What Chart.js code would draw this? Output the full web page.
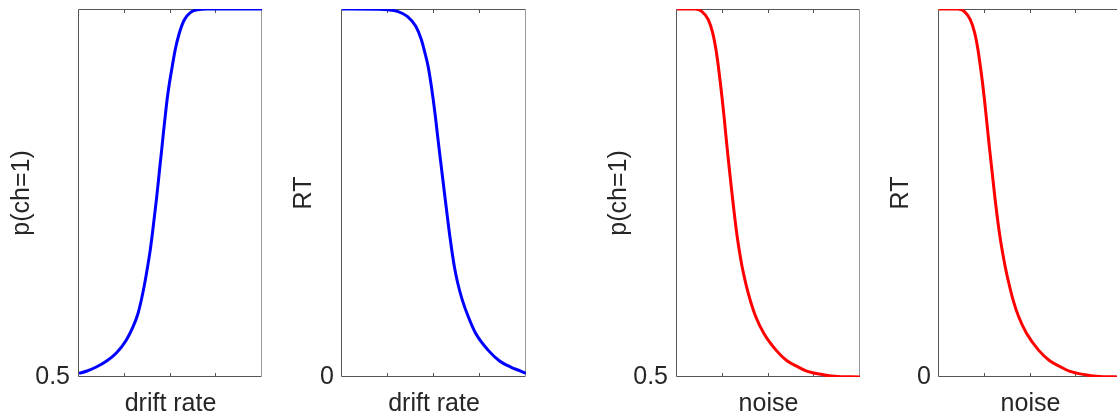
<!DOCTYPE html>
<html><head><meta charset="utf-8">
<script src="https://cdn.jsdelivr.net/npm/chart.js@4"></script>
<style>
html,body{margin:0;padding:0;background:#fff;overflow:hidden;width:1117px;height:418px;position:relative;}
canvas{position:absolute;top:0;}
</style></head><body>
<canvas id="c1"></canvas><canvas id="c2"></canvas><canvas id="c3"></canvas><canvas id="c4"></canvas>
<script>
// ---- data ----
const xTicks = [0.25, 0.5, 0.75];
const pTickLabels = ['0.5'];
const rtTickLabels = ['0'];

// p(ch=1) vs drift rate
const driftPx = [0, 0.040, 0.0945, 0.149, 0.204, 0.258, 0.295, 0.322, 0.340, 0.359, 0.375, 0.389, 0.401, 0.412, 0.4225, 0.4325, 0.442, 0.4515, 0.461, 0.471, 0.4815, 0.494, 0.5095, 0.526, 0.548, 0.575, 0.608, 0.648, 0.70, 1.0];
const driftPy = [0.5050, 0.5078, 0.5136, 0.5213, 0.5326, 0.550, 0.568, 0.586, 0.604, 0.627, 0.650, 0.672, 0.695, 0.718, 0.740, 0.763, 0.786, 0.808, 0.831, 0.854, 0.877, 0.899, 0.922, 0.945, 0.967, 0.985, 0.995, 0.999, 1.0, 1.0];

// RT vs drift rate
const driftRTx = [0, 0.2, 0.25, 0.301, 0.355, 0.401, 0.431, 0.451, 0.468, 0.483, 0.496, 0.5075, 0.518, 0.5285, 0.5395, 0.5505, 0.5615, 0.5725, 0.584, 0.5965, 0.611, 0.6295, 0.654, 0.687, 0.727, 0.794, 0.853, 0.917, 0.971, 1.0];
const driftRTy = [1, 0.9995, 0.998, 0.9936, 0.980, 0.953, 0.917, 0.880, 0.844, 0.799, 0.753, 0.708, 0.662, 0.617, 0.572, 0.526, 0.481, 0.436, 0.390, 0.345, 0.299, 0.254, 0.209, 0.163, 0.118, 0.073, 0.045, 0.027, 0.016, 0.010];

// p(ch=1) vs noise
const noisePx = [0, 0.098, 0.135, 0.171, 0.195, 0.213, 0.226, 0.237, 0.2475, 0.257, 0.266, 0.275, 0.2845, 0.2945, 0.3045, 0.315, 0.3265, 0.340, 0.356, 0.376, 0.400, 0.431, 0.475, 0.541, 0.599, 0.663, 0.709, 0.80, 0.86, 1.0];
const noisePy = [1, 1, 0.9968, 0.9855, 0.9675, 0.9445, 0.922, 0.8995, 0.8765, 0.854, 0.831, 0.8085, 0.786, 0.763, 0.7405, 0.718, 0.695, 0.6725, 0.6495, 0.627, 0.6045, 0.5815, 0.559, 0.5365, 0.5225, 0.5135, 0.508, 0.503, 0.501, 0.5];

// RT vs noise
const noiseRTx = [0, 0.102, 0.138, 0.171, 0.195, 0.213, 0.226, 0.238, 0.2485, 0.258, 0.2675, 0.277, 0.287, 0.297, 0.307, 0.318, 0.3305, 0.345, 0.362, 0.382, 0.405, 0.436, 0.479, 0.544, 0.603, 0.667, 0.712, 0.80, 0.86, 1.0];
const noiseRTy = [1, 1, 0.9936, 0.971, 0.935, 0.889, 0.844, 0.799, 0.753, 0.708, 0.662, 0.617, 0.572, 0.526, 0.481, 0.436, 0.390, 0.345, 0.299, 0.254, 0.209, 0.163, 0.118, 0.073, 0.045, 0.027, 0.016, 0.006, 0.002, 0];

// ---- drawing ----
const FONT = {family: '"Liberation Sans", Arial, Helvetica, sans-serif', size: 25};
const TXT = '#262626';

const boxPlugin = {
  id: 'box',
  beforeDatasetsDraw(chart) {
    const {ctx, chartArea: a, scales: {x}} = chart;
    ctx.save();
    ctx.lineWidth = 1;
    ctx.strokeStyle = '#555555';
    ctx.beginPath();
    x.ticks.forEach(t => {
      const px = Math.round(x.getPixelForValue(t.value)) - 0.5;
      ctx.moveTo(px, a.bottom); ctx.lineTo(px, a.bottom - 4);
      ctx.moveTo(px, a.top); ctx.lineTo(px, a.top + 4);
    });
    ctx.moveTo(a.left - 0.5, a.top + 0.5);
    ctx.lineTo(a.left - 0.5, a.bottom - 0.5);
    ctx.lineTo(a.right - 0.5, a.bottom - 0.5);
    ctx.moveTo(a.left - 0.5, a.top + 0.5);
    ctx.lineTo(a.right - 0.5, a.top + 0.5);
    ctx.stroke();
    ctx.strokeStyle = '#999999';
    ctx.beginPath();
    ctx.moveTo(a.right - 0.5, a.top + 0.5);
    ctx.lineTo(a.right - 0.5, a.bottom - 0.5);
    ctx.stroke();
    ctx.restore();
  }
};

function makeChart(id, cfg) {
  const cv = document.getElementById(id);
  const padR = 5;
  cv.width = cfg.yW + cfg.plotW + padR;
  cv.height = 418;
  cv.style.left = cfg.left + 'px';
  cv.style.width = cv.width + 'px';
  cv.style.height = '418px';
  const pts = cfg.xs.map((v, i) => ({x: v, y: cfg.ys[i]}));
  new Chart(cv, {
    type: 'line',
    data: {datasets: [{data: pts, borderColor: cfg.color, borderWidth: 3, pointRadius: 0, fill: false, cubicInterpolationMode: 'monotone'}]},
    options: {
      responsive: false, animation: false, events: [], devicePixelRatio: 1,
      layout: {padding: {top: 9, right: padR, left: 0, bottom: 0}},
      plugins: {legend: {display: false}, tooltip: {enabled: false}},
      scales: {
        x: {
          type: 'linear', min: 0, max: 1,
          afterBuildTicks: s => { s.ticks = xTicks.map(v => ({value: v})); },
          ticks: {display: false},
          grid: {display: false, drawTicks: false},
          border: {display: false},
          title: {display: true, text: cfg.xTitle, font: FONT, color: TXT, padding: {top: 0, bottom: -1}},
          afterFit: s => { s.height = 418 - 377; s.paddingLeft = 0; s.paddingRight = 0; }
        },
        y: {
          type: 'linear', min: cfg.yMin, max: cfg.yMax,
          afterBuildTicks: s => { s.ticks = [{value: cfg.yMin}]; },
          ticks: {font: FONT, color: TXT, padding: cfg.tickPad, callback: (v, i) => cfg.yLabels[i]},
          grid: {display: false, drawTicks: false},
          border: {display: false},
          title: {display: true, text: cfg.yTitle, font: FONT, color: TXT, padding: {top: cfg.titlePad, bottom: 0}},
          afterFit: s => { s.width = cfg.yW; s.paddingTop = 0; s.paddingBottom = 0; }
        }
      }
    },
    plugins: [boxPlugin]
  });
}

makeChart('c1', {left: 0, yW: 79, plotW: 183, xs: driftPx, ys: driftPy, color: '#0000ff', yMin: 0.5, yMax: 1, yLabels: pTickLabels, tickPad: 9, yTitle: 'p(ch=1)', xTitle: 'drift rate', titlePad: 7.5});
makeChart('c2', {left: 280, yW: 62, plotW: 184, xs: driftRTx, ys: driftRTy, color: '#0000ff', yMin: 0, yMax: 1, yLabels: rtTickLabels, tickPad: 8, yTitle: 'RT', xTitle: 'drift rate', titlePad: 9});
makeChart('c3', {left: 600, yW: 77, plotW: 183, xs: noisePx, ys: noisePy, color: '#ff0000', yMin: 0.5, yMax: 1, yLabels: pTickLabels, tickPad: 9, yTitle: 'p(ch=1)', xTitle: 'noise', titlePad: 4.5});
makeChart('c4', {left: 860, yW: 79, plotW: 183, xs: noiseRTx, ys: noiseRTy, color: '#ff0000', yMin: 0, yMax: 1, yLabels: rtTickLabels, tickPad: 8, yTitle: 'RT', xTitle: 'noise', titlePad: 26.5});
</script>
</body></html>
